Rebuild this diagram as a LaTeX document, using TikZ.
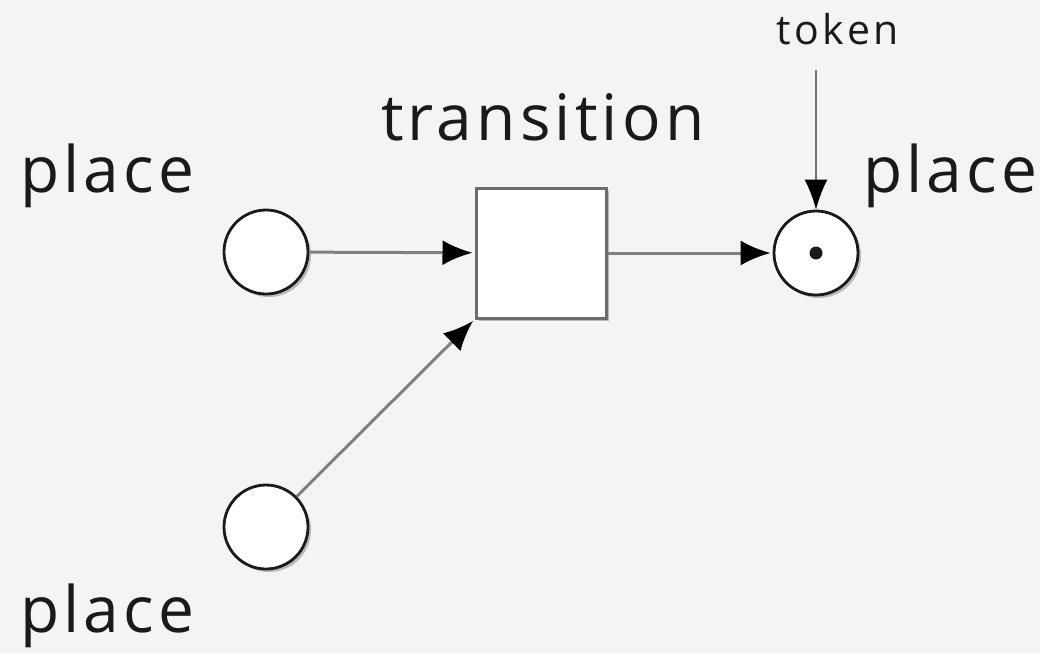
\documentclass[tikz,border=0pt]{standalone}
\usepackage{fontspec}
\setmainfont{Open Sans}
\newfontfamily\bigfont[LetterSpace=6.5]{Open Sans}
\newfontfamily\smallfont[LetterSpace=9]{Open Sans}
\usetikzlibrary{arrows.meta,shadows}
\definecolor{bg}{HTML}{F4F4F4}
\definecolor{ink}{HTML}{1A1A1A}
\begin{document}
\begin{tikzpicture}[x=1pt,y=-1pt,
  place/.style={circle, draw=ink, line width=2.8pt, fill=white, minimum size=84pt, inner sep=0pt,
    drop shadow={shadow xshift=3pt, shadow yshift=-3pt, opacity=0.45, fill=black!55}},
  trans/.style={rectangle, draw=black!58, line width=3pt, fill=white, minimum size=130pt, inner sep=0pt,
    drop shadow={shadow xshift=3pt, shadow yshift=-3pt, opacity=0.45, fill=black!55}},
  arc/.style={draw=black!50, line width=3pt, -{Latex[length=30pt,width=25pt,black]}, shorten >=2pt},
  biglbl/.style={font=\bigfont\fontsize{64}{64}\selectfont, text=ink, inner sep=0pt, anchor=base west},
  smalllbl/.style={font=\smallfont\fontsize{41}{41}\selectfont, text=ink, inner sep=0pt, anchor=base west}
]
\fill[bg] (0,0) rectangle (1040,653);
\useasboundingbox (0,0) rectangle (1040,653);

\node[place] (p1) at (266,252) {};
\node[place] (p3) at (266,527) {};
\node[place] (p2) at (816,253) {};
\node[trans] (t) at (541,253) {};
\node[circle, fill=ink, minimum size=13pt, inner sep=0pt] (tok) at (p2.center) {};

\draw[arc] (p1) -- (t);
\draw[arc] (t) -- (p2);
\draw[arc] (p3) -- (t.south west);
\coordinate (tokstart) at (816,70);
\draw[draw=black!55, line width=1.5pt, -{Latex[length=30pt,width=23pt,black]}] (tokstart) -- (p2.north);

\node[biglbl] (l1) at (20,192) {place};
\node[biglbl] (l2) at (863,192) {place};
\node[biglbl] (l3) at (20,632) {place};
\node[biglbl] (lt) at (381,140) {transition};
\node[smalllbl] (ltok) at (776,44) {token};
\end{tikzpicture}
\end{document}
